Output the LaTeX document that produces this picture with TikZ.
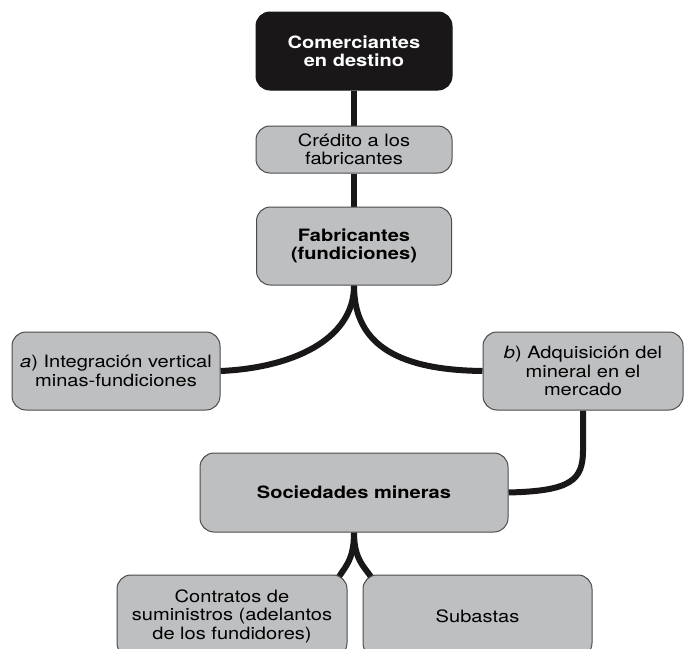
\documentclass[tikz,border=0pt]{standalone}
\usepackage{fontspec}
\setmainfont{TeX Gyre Heros}[FakeStretch=1.18]
\usetikzlibrary{backgrounds}
\definecolor{boxgray}{RGB}{190,191,193}
\definecolor{edgegray}{RGB}{75,75,75}
\definecolor{darkfill}{RGB}{26,23,24}
\begin{document}
\begin{tikzpicture}[x=1pt,y=-1pt,
  box/.style={draw=edgegray, line width=1pt, fill=boxgray, rounded corners=14pt,
    align=center, inner sep=0pt, font=\fontsize{17}{18.5}\selectfont},
  boldbox/.style={box, font=\fontsize{17}{18.5}\selectfont\bfseries},
  darkbox/.style={boldbox, fill=darkfill, draw=darkfill, text=white},
  link/.style={line width=6pt, draw=darkfill}]
\clip (0,0) rectangle (685,648);
\useasboundingbox (0,0) rectangle (685,648);

\node[darkbox, minimum width=196pt, minimum height=78pt] (com) at (354,51) {Comerciantes\\en destino};
\node[box, minimum width=196pt, minimum height=47pt] (cred) at (354,149.5) {Crédito a los\\fabricantes};
\node[boldbox, minimum width=195pt, minimum height=78pt] (fab) at (354,246) {Fabricantes\\(fundiciones)};
\node[box, minimum width=208pt, minimum height=78pt] (a) at (116,371) {\textit{a}) Integración vertical\\minas-fundiciones};
\node[box, minimum width=200pt, minimum height=78pt] (b) at (583,371) {\textit{b}) Adquisición del\\mineral en el\\mercado};
\node[boldbox, minimum width=308pt, minimum height=79pt] (soc) at (354,492.5) {Sociedades mineras};
\node[box, minimum width=230pt, minimum height=82pt] (con) at (232,616) {Contratos de\\suministros (adelantos\\de los fundidores)};
\node[box, minimum width=229pt, minimum height=82pt] (sub) at (477.5,616) {Subastas};

\begin{scope}[on background layer]
\draw[link] (com.south) -- (cred.north);
\draw[link] (cred.south) -- (fab.north);
\draw[link] (fab.south) .. controls +(0,55) and +(70,-3) .. (a.east);
\draw[link] (fab.south) .. controls +(0,62) and +(-80,-1) .. (b.west);
\draw[link] (b.south) -- ++(0,40) .. controls +(0,30) and +(62,-1.5) .. (soc.east);
\draw[link] (soc.south) .. controls +(0,30) and +(8,-15) .. ([shift={(-12,8)}]con.north east);
\draw[link] (soc.south) .. controls +(0,30) and +(-8,-15) .. ([shift={(12,8)}]sub.north west);
\end{scope}
\end{tikzpicture}
\end{document}
